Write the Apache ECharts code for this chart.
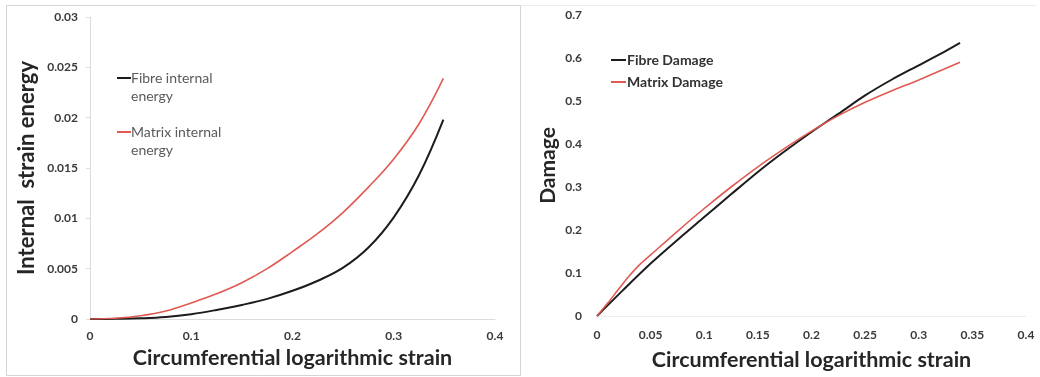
<!DOCTYPE html>
<html>
<head>
<meta charset="utf-8">
<script src="https://cdn.jsdelivr.net/npm/echarts@6/dist/echarts.min.js"></script>
<style>
  html, body { margin: 0; padding: 0; background: #ffffff; }
  #chart { width: 1040px; height: 377px; }
</style>
</head>
<body>
<div id="chart"></div>
<script>
// Circumferential logarithmic strain (x values per series)
const energyStrain = [0, 0.025, 0.05, 0.075, 0.1, 0.125, 0.15, 0.175, 0.2, 0.225, 0.25, 0.275, 0.3, 0.325, 0.349];
const fibreEnergy  = [0, 0.00002, 0.00007, 0.0002, 0.00048, 0.0009, 0.0014, 0.002, 0.0028, 0.0038, 0.0051, 0.0071, 0.0101, 0.0143, 0.0198];
const matrixEnergy = [0, 0.00008, 0.00033, 0.0008, 0.0016, 0.0025, 0.0036, 0.005, 0.0067, 0.0085, 0.0106, 0.0131, 0.0159, 0.0194, 0.0239];

const fibreDamageStrain = [0, 0.025, 0.05, 0.075, 0.1, 0.125, 0.15, 0.175, 0.2, 0.225, 0.25, 0.275, 0.3, 0.325, 0.3385];
const fibreDamage       = [0, 0.062, 0.122, 0.177, 0.23, 0.283, 0.335, 0.383, 0.428, 0.47, 0.513, 0.55, 0.583, 0.616, 0.635];
const matrixDamageStrain = [0, 0.01, 0.02, 0.03, 0.04, 0.05, 0.075, 0.1, 0.125, 0.15, 0.175, 0.2, 0.225, 0.25, 0.275, 0.3, 0.3385];
const matrixDamage       = [0, 0.03, 0.062, 0.093, 0.12, 0.142, 0.197, 0.25, 0.3, 0.347, 0.39, 0.43, 0.466, 0.497, 0.524, 0.549, 0.59];

const energyLabels = ['Fibre internal\nenergy', 'Matrix internal\nenergy'];
const damageLabels = ['Fibre Damage', 'Matrix Damage'];
const axisTitles = {
  energyY: 'Internal  strain energy',
  damageY: 'Damage',
  strainX: 'Circumferential logarithmic strain'
};

const pairs = (xs, ys) => xs.map((x, i) => [x, ys[i]]);

const FONT = 'Lato, "Open Sans", sans-serif';
const BLACK = '#1c1c1c';
const RED = '#e05a52';

const tickLabel = { fontFamily: FONT, fontSize: 12, fontWeight: 'bold', color: '#3a3a3a' };
const titleStyle = (size) => ({ fontFamily: FONT, fontSize: size, fontWeight: 'bold', color: '#262626' });

// Energy legend: the key line sits beside the first line of each wrapped label
function energyKey(label, color, y) {
  return {
    type: 'group', silent: true,
    children: [
      { type: 'line', shape: { x1: 117, y1: y, x2: 131, y2: y }, style: { stroke: color, lineWidth: 2 } },
      {
        type: 'text', x: 131, y: y - 9,
        style: { text: label, fontFamily: FONT, fontSize: 14, fill: '#5a5a5a', lineHeight: 18, verticalAlign: 'top' }
      }
    ]
  };
}

const chart = echarts.init(document.getElementById('chart'), null, { renderer: 'canvas' });

chart.setOption({
  backgroundColor: '#ffffff',
  animation: false,
  graphic: [
    { type: 'rect', shape: { x: 6.5, y: 5.5, width: 514, height: 370 }, style: { fill: 'none', stroke: '#d4d4d4', lineWidth: 1 }, silent: true },
    { type: 'line', shape: { x1: 521, y1: 5.5, x2: 1036, y2: 5.5 }, style: { stroke: '#ececec', lineWidth: 1 }, silent: true },
    energyKey(energyLabels[0], BLACK, 78),
    energyKey(energyLabels[1], RED, 132)
  ],
  grid: [
    { left: 90, right: 545, top: 17, bottom: 58, outerBoundsMode: 'none', containLabel: false },
    { left: 597, right: 14, top: 15, bottom: 61, outerBoundsMode: 'none', containLabel: false }
  ],
  legend: [
    {
      data: [damageLabels[0], damageLabels[1]],
      orient: 'vertical',
      left: 606, top: 48,
      itemWidth: 15, itemHeight: 2, itemGap: 8,
      icon: 'rect',
      textStyle: { fontFamily: FONT, fontSize: 14, fontWeight: 'bold', color: '#333333', padding: [0, 0, 0, -4] }
    }
  ],
  xAxis: [
    {
      gridIndex: 0, type: 'value', min: 0, max: 0.4, interval: 0.1,
      name: axisTitles.strainX, nameLocation: 'middle', nameGap: 25, nameTextStyle: titleStyle(21.5),
      axisLine: { show: true, lineStyle: { color: '#dcdcdc' } },
      axisTick: { show: false },
      splitLine: { show: false },
      axisLabel: Object.assign({ margin: 11 }, tickLabel)
    },
    {
      gridIndex: 1, type: 'value', min: 0, max: 0.4, interval: 0.05,
      name: axisTitles.strainX, nameLocation: 'middle', nameGap: 33, nameTextStyle: titleStyle(21.5),
      axisLine: { show: true, lineStyle: { color: '#eeeeee' } },
      axisTick: { show: false },
      splitLine: { show: false },
      axisLabel: Object.assign({ margin: 13 }, tickLabel)
    }
  ],
  yAxis: [
    {
      gridIndex: 0, type: 'value', min: 0, max: 0.03, interval: 0.005,
      name: axisTitles.energyY, nameLocation: 'middle', nameGap: 52, nameTextStyle: titleStyle(22),
      axisLine: { show: true, lineStyle: { color: '#dcdcdc' } },
      axisTick: { show: true, length: 4, lineStyle: { color: '#dcdcdc' } },
      splitLine: { show: false },
      axisLabel: Object.assign({ margin: 12 }, tickLabel)
    },
    {
      gridIndex: 1, type: 'value', min: 0, max: 0.7, interval: 0.1,
      name: axisTitles.damageY, nameLocation: 'middle', nameGap: 38, nameTextStyle: titleStyle(21),
      axisLine: { show: false },
      axisTick: { show: false },
      splitLine: { show: false },
      axisLabel: Object.assign({ margin: 15 }, tickLabel)
    }
  ],
  series: [
    {
      name: energyLabels[0], type: 'line', xAxisIndex: 0, yAxisIndex: 0,
      data: pairs(energyStrain, fibreEnergy), smooth: 0.4, showSymbol: false,
      lineStyle: { color: BLACK, width: 2 }, itemStyle: { color: BLACK }
    },
    {
      name: energyLabels[1], type: 'line', xAxisIndex: 0, yAxisIndex: 0,
      data: pairs(energyStrain, matrixEnergy), smooth: 0.4, showSymbol: false,
      lineStyle: { color: RED, width: 1.6 }, itemStyle: { color: RED }
    },
    {
      name: damageLabels[0], type: 'line', xAxisIndex: 1, yAxisIndex: 1,
      data: pairs(fibreDamageStrain, fibreDamage), smooth: 0.3, showSymbol: false,
      lineStyle: { color: BLACK, width: 2 }, itemStyle: { color: BLACK }
    },
    {
      name: damageLabels[1], type: 'line', xAxisIndex: 1, yAxisIndex: 1,
      data: pairs(matrixDamageStrain, matrixDamage), smooth: 0.3, showSymbol: false,
      lineStyle: { color: RED, width: 1.6 }, itemStyle: { color: RED }
    }
  ]
});
</script>
</body>
</html>
